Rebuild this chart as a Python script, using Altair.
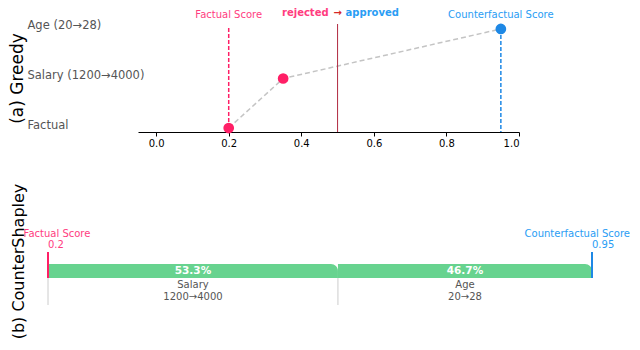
import json
import altair as alt
import pandas as pd

# ---------------- data ----------------
greedy_steps = ["Factual", "Salary (1200→4000)", "Age (20→28)"]
greedy_scores = [0.2, 0.35, 0.95]
factual_score = 0.2
counterfactual_score = 0.95
threshold = 0.5
shap_features = ["Salary", "Age"]
shap_changes = ["1200→4000", "20→28"]
shap_percent = [53.3, 46.7]
x_ticks = [0.0, 0.2, 0.4, 0.6, 0.8, 1.0]

PINK = "#ff1f66"
PINK_T = "#ff3d7f"
BLUE = "#1e88e5"
BLUE_T = "#2a9df4"
GREEN = "#67d38f"
FONT = "DejaVu Sans"

# ---------------- top panel: greedy ----------------
steps_df = pd.DataFrame({
    "step": list(range(len(greedy_steps))),
    "score": greedy_scores,
    "color": [PINK, PINK, BLUE],
})
score_df = pd.DataFrame({
    "score": [factual_score, counterfactual_score],
    "text": ["Factual Score", "Counterfactual Score"],
    "color": [PINK_T, BLUE_T],
})
thr_df = pd.DataFrame({"score": [threshold]})

xs = alt.Scale(domain=[-0.05, 1.0], nice=False, zero=False)
ys = alt.Scale(domain=[-0.08, 2.1], nice=False, zero=False)
label_expr = "[" + ",".join(json.dumps(s, ensure_ascii=False) for s in greedy_steps) + "][datum.value]"

x_axis = alt.Axis(values=x_ticks, format=".1f", grid=False, title=None,
                  domainColor="black", tickColor="black", tickSize=4,
                  labelFontSize=10, labelColor="black", labelPadding=2, domainWidth=1)
y_axis = alt.Axis(values=[0, 1, 2], labelExpr=label_expr, labelAlign="left",
                  labelPadding=111, ticks=False, domain=False, grid=False,
                  labelOffset=-3, labelFontSize=11.5, labelColor="#555555",
                  title="(a) Greedy", titleFontSize=17, titleFontWeight="normal",
                  titleColor="black", titlePadding=1)

path = alt.Chart(steps_df).mark_line(color="#c4c4c4", strokeDash=[5, 3], strokeWidth=1.5).encode(
    x=alt.X("score:Q", scale=xs, axis=x_axis),
    y=alt.Y("step:Q", scale=ys, axis=y_axis),
)
thr = alt.Chart(thr_df).mark_rule(color="#b02a40", strokeWidth=1).encode(
    x=alt.X("score:Q", scale=xs),
)
f_rule = alt.Chart(score_df.iloc[[0]]).mark_rule(color=PINK, strokeDash=[4, 2], strokeWidth=1.5).encode(
    x=alt.X("score:Q", scale=xs),
    y=alt.Y(datum=0, scale=ys),
    y2=alt.Y2(datum=2.04),
)
cf_rule = alt.Chart(score_df.iloc[[1]]).mark_rule(color=BLUE, strokeDash=[4, 2], strokeWidth=1.5).encode(
    x=alt.X("score:Q", scale=xs),
    y=alt.Y(datum=2, scale=ys),
    y2=alt.Y2(datum=-0.08),
)
pts = alt.Chart(steps_df).mark_circle(size=115, opacity=1).encode(
    x=alt.X("score:Q", scale=xs),
    y=alt.Y("step:Q", scale=ys),
    color=alt.Color("color:N", scale=None),
)
score_lbl = alt.Chart(score_df).mark_text(baseline="bottom", dy=-4, fontSize=10, font=FONT).encode(
    x=alt.X("score:Q", scale=xs),
    y=alt.Y(datum=2.1, scale=ys),
    text="text:N",
    color=alt.Color("color:N", scale=None),
)
head_base = alt.Chart(thr_df)
h_rej = head_base.mark_text(text="rejected", align="right", baseline="top", dx=-9, dy=-16,
                            fontSize=10, fontWeight="bold", color=PINK_T, font=FONT).encode(
    x=alt.X("score:Q", scale=xs), y=alt.Y(datum=2.1, scale=ys))
h_arr = head_base.mark_text(text="→", align="center", baseline="top", dy=-16,
                            fontSize=10, fontWeight="bold", color="#d62728", font=FONT).encode(
    x=alt.X("score:Q", scale=xs), y=alt.Y(datum=2.1, scale=ys))
h_app = head_base.mark_text(text="approved", align="left", baseline="top", dx=8, dy=-16,
                            fontSize=10, fontWeight="bold", color=BLUE_T, font=FONT).encode(
    x=alt.X("score:Q", scale=xs), y=alt.Y(datum=2.1, scale=ys))

top = alt.layer(path, thr, f_rule, cf_rule, pts, score_lbl, h_rej, h_arr, h_app).properties(
    width=381, height=108)

# ---------------- bottom panel: CounterShapley ----------------
span = counterfactual_score - factual_score
starts, ends = [], []
acc = 0.0
for p in shap_percent:
    starts.append(factual_score + span * acc / 100.0)
    acc += p
    ends.append(factual_score + span * acc / 100.0)
shap_df = pd.DataFrame({
    "start": starts,
    "end": ends,
    "mid": [(a + b) / 2 for a, b in zip(starts, ends)],
    "pct": [f"{p:.1f}%" for p in shap_percent],
    "name": [f"{f}\n{c}" for f, c in zip(shap_features, shap_changes)],
})
mark_df = pd.DataFrame({
    "score": [factual_score, counterfactual_score],
    "text": ["Factual Score", "Counterfactual Score"],
    "value": [f"{factual_score:g}", f"{counterfactual_score:g}"],
    "color": [PINK, BLUE],
    "tcolor": [PINK_T, BLUE_T],
})

bxs = alt.Scale(domain=[factual_score, counterfactual_score], range=[-90, 454], nice=False, zero=False)
bys = alt.Scale(domain=[-2.5, 3.5], nice=False, zero=False)

bars = alt.Chart(shap_df).mark_bar(color=GREEN, cornerRadiusTopRight=14).encode(
    x=alt.X("start:Q", scale=bxs, axis=None),
    x2="end:Q",
    y=alt.Y(datum=1, scale=bys, axis=alt.Axis(
        title="(b) CounterShapley", labels=False, ticks=False, domain=False, grid=False,
        titleFontSize=16, titleFontWeight="normal", titleColor="black", titlePadding=112,
        titleY=32)),
    y2=alt.Y2(datum=0),
)
seps = alt.Chart(shap_df).mark_rule(color="#cccccc", strokeWidth=1).encode(
    x=alt.X("start:Q", scale=bxs),
    y=alt.Y(datum=0, scale=bys),
    y2=alt.Y2(datum=-1.93),
)
pct = alt.Chart(shap_df).mark_text(color="white", fontWeight="bold", fontSize=10.5, baseline="middle", font=FONT).encode(
    x=alt.X("mid:Q", scale=bxs),
    y=alt.Y(datum=0.5, scale=bys),
    text="pct:N",
)
names = alt.Chart(shap_df).mark_text(color="#555555", fontSize=10, baseline="top", dy=2,
                                     lineBreak="\n", lineHeight=12, font=FONT).encode(
    x=alt.X("mid:Q", scale=bxs),
    y=alt.Y(datum=0, scale=bys),
    text="name:N",
)
markers = alt.Chart(mark_df).mark_rule(strokeWidth=2).encode(
    x=alt.X("score:Q", scale=bxs),
    y=alt.Y(datum=0, scale=bys),
    y2=alt.Y2(datum=1.86),
    color=alt.Color("color:N", scale=None),
)
f_name = alt.Chart(mark_df.iloc[[0]]).mark_text(fontSize=10, baseline="bottom", dy=-13, dx=9, font=FONT).encode(
    x=alt.X("score:Q", scale=bxs),
    y=alt.Y(datum=1.86, scale=bys),
    text="text:N",
    color=alt.Color("tcolor:N", scale=None),
)
cf_name = alt.Chart(mark_df.iloc[[1]]).mark_text(fontSize=10, baseline="bottom", align="right", dy=-13, dx=38, font=FONT).encode(
    x=alt.X("score:Q", scale=bxs),
    y=alt.Y(datum=1.86, scale=bys),
    text="text:N",
    color=alt.Color("tcolor:N", scale=None),
)
m_vals = alt.Chart(mark_df).mark_text(fontSize=10, baseline="bottom", align="left", dy=-2, font=FONT).encode(
    x=alt.X("score:Q", scale=bxs),
    y=alt.Y(datum=1.86, scale=bys),
    text="value:N",
    color=alt.Color("tcolor:N", scale=None),
)

bottom = alt.layer(bars, seps, pct, names, markers, f_name, cf_name, m_vals).properties(width=454, height=84)

chart = alt.vconcat(top, bottom, spacing=97, bounds="flush").properties(
    padding=0
).resolve_scale(x="independent", y="independent").configure(
    font=FONT
).configure_view(stroke=None)

chart.save("out.html", embed_options={"renderer": "svg", "actions": False})
